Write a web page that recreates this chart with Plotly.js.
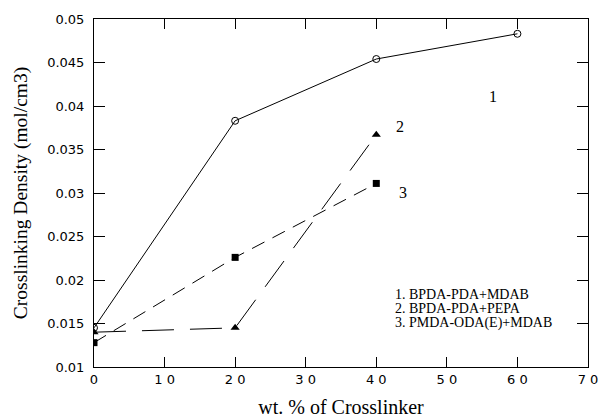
<!DOCTYPE html>
<html>
<head>
<meta charset="utf-8">
<script src="https://cdn.plot.ly/plotly-3.0.1.min.js"></script>
<style>
  html, body { margin: 0; padding: 0; background: #fff; }
  #chart { width: 610px; height: 420px; }
</style>
</head>
<body>
<div id="chart"></div>
<script>
// Crosslinker loading (wt. %)
const loading1 = [0, 20, 40, 60];
const loading2 = [0, 20, 40];
const loading3 = [0, 20, 40];

// Crosslinking density (mol/cm3)
const density1 = [0.0145, 0.0383, 0.0454, 0.0483]; // BPDA-PDA+MDAB
const density2 = [0.0140, 0.0145, 0.0367];         // BPDA-PDA+PEPA
const density3 = [0.0128, 0.0226, 0.0311];         // PMDA-ODA(E)+MDAB

const seriesNames = ['BPDA-PDA+MDAB', 'BPDA-PDA+PEPA', 'PMDA-ODA(E)+MDAB'];
const seriesTags = ['1', '2', '3'];
const tagX = [56.6, 43.4, 43.8];
const tagY = [0.0411, 0.0376, 0.0301];

const xTickVals = [0, 10, 20, 30, 40, 50, 60, 70];
const xTickText = ['0', '1 0', '2 0', '3 0', '4 0', '5 0', '6 0', '7 0'];
const yTickVals = [0.01, 0.015, 0.02, 0.025, 0.03, 0.035, 0.04, 0.045, 0.05];
const yTickText = ['0.01', '0.015', '0.02', '0.025', '0.03', '0.035', '0.04', '0.045', '0.05'];

const serif = 'Liberation Serif, Times New Roman, serif';
const sans = 'DejaVu Sans, Arial, sans-serif';

const traces = [
  {
    x: loading1, y: density1, name: seriesNames[0], mode: 'lines+markers',
    line: { color: '#000', width: 1, dash: 'solid' },
    marker: { symbol: 'circle-open', size: 7, color: '#000', line: { width: 1, color: '#000' } }
  },
  {
    x: loading2, y: density2, name: seriesNames[1], mode: 'lines+markers',
    line: { color: '#000', width: 1, dash: '32px,16px' },
    marker: { symbol: 'triangle-up', size: 8, color: '#000' }
  },
  {
    x: loading3, y: density3, name: seriesNames[2], mode: 'lines+markers',
    line: { color: '#000', width: 1, dash: '14px,9px' },
    marker: { symbol: 'square', size: 7, color: '#000' }
  }
];

// Curve numbers next to each series
const annotations = seriesTags.map((t, i) => ({
  x: tagX[i], y: tagY[i], xref: 'x', yref: 'y', text: t, showarrow: false,
  font: { family: serif, size: 16, color: '#000' }
}));

// Key block listing the numbered series
seriesNames.forEach((n, i) => {
  annotations.push({
    xref: 'paper', yref: 'paper', x: 0.607, y: 0.207 - i * 0.0398,
    xanchor: 'left', yanchor: 'middle', showarrow: false, borderpad: 0,
    text: (i + 1) + '. ' + n,
    font: { family: serif, size: 14, color: '#000' }
  });
});

const layout = {
  width: 610, height: 420,
  margin: { l: 94, r: 22, t: 19, b: 53 },
  paper_bgcolor: '#fff', plot_bgcolor: '#fff',
  showlegend: false,
  xaxis: {
    range: [0, 70], tickvals: xTickVals, ticktext: xTickText,
    ticks: 'inside', ticklen: 10, tickcolor: '#000', tickwidth: 1,
    showline: true, linecolor: '#000', linewidth: 1, mirror: 'ticks',
    showgrid: false, zeroline: false,
    tickfont: { family: sans, size: 13, color: '#000' },
    title: { text: 'wt. % of Crosslinker', font: { family: serif, size: 20, color: '#000' }, standoff: 14 }
  },
  yaxis: {
    range: [0.01, 0.05], tickvals: yTickVals, ticktext: yTickText,
    ticks: 'inside', ticklen: 11, tickcolor: '#000', tickwidth: 1,
    showline: true, linecolor: '#000', linewidth: 1, mirror: 'ticks',
    showgrid: false, zeroline: false, ticklabelstandoff: 6,
    tickfont: { family: sans, size: 13, color: '#000' },
    title: { text: 'Crosslinking Density (mol/cm3)', font: { family: serif, size: 19.5, color: '#000' }, standoff: 14 }
  },
  annotations: annotations
};

Plotly.newPlot('chart', traces, layout, { displayModeBar: false, staticPlot: true });
</script>
</body>
</html>
